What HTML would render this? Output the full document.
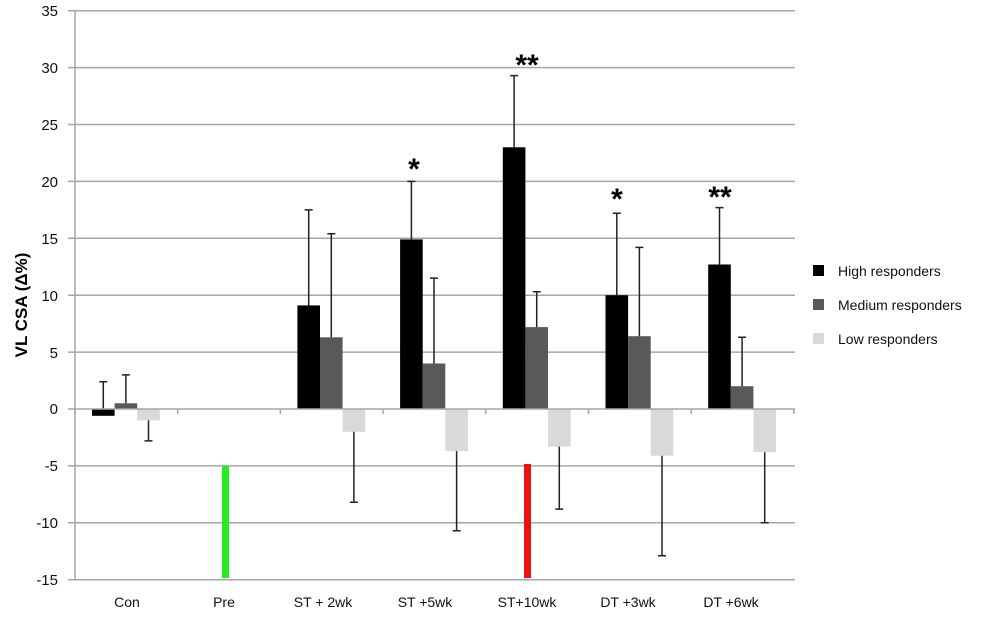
<!DOCTYPE html>
<html><head><style>body{margin:0;background:#fff}</style></head><body>
<svg width="1000" height="619" xmlns="http://www.w3.org/2000/svg" font-family="Liberation Sans, sans-serif">
<rect width="1000" height="619" fill="#fff"/>
<g stroke="#a6a6a6" stroke-width="1.5">
<line x1="68" x2="795" y1="10.7" y2="10.7"/><line x1="68" x2="795" y1="67.6" y2="67.6"/><line x1="68" x2="795" y1="124.5" y2="124.5"/><line x1="68" x2="795" y1="181.4" y2="181.4"/><line x1="68" x2="795" y1="238.3" y2="238.3"/><line x1="68" x2="795" y1="295.2" y2="295.2"/><line x1="68" x2="795" y1="352.1" y2="352.1"/><line x1="68" x2="795" y1="465.9" y2="465.9"/><line x1="68" x2="795" y1="522.8" y2="522.8"/><line x1="68" x2="795" y1="579.7" y2="579.7"/>
<line x1="75" x2="75" y1="10.7" y2="579.7"/>
</g>
<g font-size="15" text-anchor="end" fill="#111">
<text x="58" y="16">35</text><text x="58" y="73">30</text><text x="58" y="130">25</text><text x="58" y="187">20</text><text x="58" y="244">15</text><text x="58" y="301">10</text><text x="58" y="358">5</text><text x="58" y="414">0</text><text x="58" y="471">-5</text><text x="58" y="528">-10</text><text x="58" y="585">-15</text>
</g>
<g>
<rect x="92" y="409" width="22.6" height="6.8" fill="#000"/>
<rect x="114.6" y="403.3" width="22.6" height="5.7" fill="#595959"/>
<rect x="137.2" y="409" width="22.6" height="11.4" fill="#d9d9d9"/>
<rect x="297.4" y="305.4" width="22.6" height="103.6" fill="#000"/>
<rect x="320" y="337.3" width="22.6" height="71.7" fill="#595959"/>
<rect x="342.6" y="409" width="22.6" height="22.8" fill="#d9d9d9"/>
<rect x="400.1" y="239.4" width="22.6" height="169.6" fill="#000"/>
<rect x="422.7" y="363.5" width="22.6" height="45.5" fill="#595959"/>
<rect x="445.3" y="409" width="22.6" height="42.1" fill="#d9d9d9"/>
<rect x="502.8" y="147.3" width="22.6" height="261.7" fill="#000"/>
<rect x="525.4" y="327.1" width="22.6" height="81.9" fill="#595959"/>
<rect x="548" y="409" width="22.6" height="37.6" fill="#d9d9d9"/>
<rect x="605.5" y="295.2" width="22.6" height="113.8" fill="#000"/>
<rect x="628.1" y="336.2" width="22.6" height="72.8" fill="#595959"/>
<rect x="650.7" y="409" width="22.6" height="46.7" fill="#d9d9d9"/>
<rect x="708.2" y="264.5" width="22.6" height="144.5" fill="#000"/>
<rect x="730.8" y="386.2" width="22.6" height="22.8" fill="#595959"/>
<rect x="753.4" y="409" width="22.6" height="43.2" fill="#d9d9d9"/>
</g>
<g stroke="#222" stroke-width="1.5">
<path d="M103.3 409V381.7M99.3 381.7h8 M125.9 403.3V374.9M121.9 374.9h8 M148.5 420.4V440.9M144.5 440.9h8"/>
<path d="M308.7 305.4V209.9M304.7 209.9h8 M331.3 337.3V233.7M327.3 233.7h8 M353.9 431.8V502.3M349.9 502.3h8"/>
<path d="M411.4 239.4V181.4M407.4 181.4h8 M434 363.5V278.1M430 278.1h8 M456.6 451.1V530.8M452.6 530.8h8"/>
<path d="M514.1 147.3V75.6M510.1 75.6h8 M536.7 327.1V291.8M532.7 291.8h8 M559.3 446.6V509.1M555.3 509.1h8"/>
<path d="M616.8 295.2V213.3M612.8 213.3h8 M639.4 336.2V247.4M635.4 247.4h8 M662 455.7V555.8M658 555.8h8"/>
<path d="M719.5 264.5V207.6M715.5 207.6h8 M742.1 386.2V337.3M738.1 337.3h8 M764.7 452.2V522.8M760.7 522.8h8"/>
</g>
<g stroke="#a6a6a6" stroke-width="1.5">
<line x1="68" x2="795" y1="409" y2="409"/>
<path d="M75 409v5M177.7 409v5M280.4 409v5M383.1 409v5M485.8 409v5M588.5 409v5M691.2 409v5M793.9 409v5"/>
</g>
<text transform="translate(27 305) rotate(-90)" font-size="17" font-weight="bold" text-anchor="middle">VL CSA (Δ%)</text>
<rect x="222" y="466" width="7" height="112" fill="#22ee22"/>
<rect x="524" y="464" width="7" height="114" fill="#ee1111"/>
<g font-size="30" font-weight="bold" text-anchor="middle">
<text x="414" y="179">*</text><text x="527" y="75">**</text><text x="617" y="209">*</text><text x="720" y="207">**</text>
</g>
<g font-size="14" text-anchor="middle" fill="#111">
<text x="127" y="607">Con</text><text x="224" y="607">Pre</text><text x="323" y="607">ST + 2wk</text><text x="425" y="607">ST +5wk</text><text x="527" y="607">ST+10wk</text><text x="628" y="607">DT +3wk</text><text x="731" y="607">DT +6wk</text>
</g>
<g font-size="14" fill="#111">
<rect x="813" y="265" width="11" height="11" fill="#000"/><text x="838" y="276">High responders</text>
<rect x="813" y="299" width="11" height="11" fill="#595959"/><text x="838" y="310">Medium responders</text>
<rect x="813" y="333" width="11" height="11" fill="#d9d9d9"/><text x="838" y="344">Low responders</text>
</g>
</svg>
</body></html>
